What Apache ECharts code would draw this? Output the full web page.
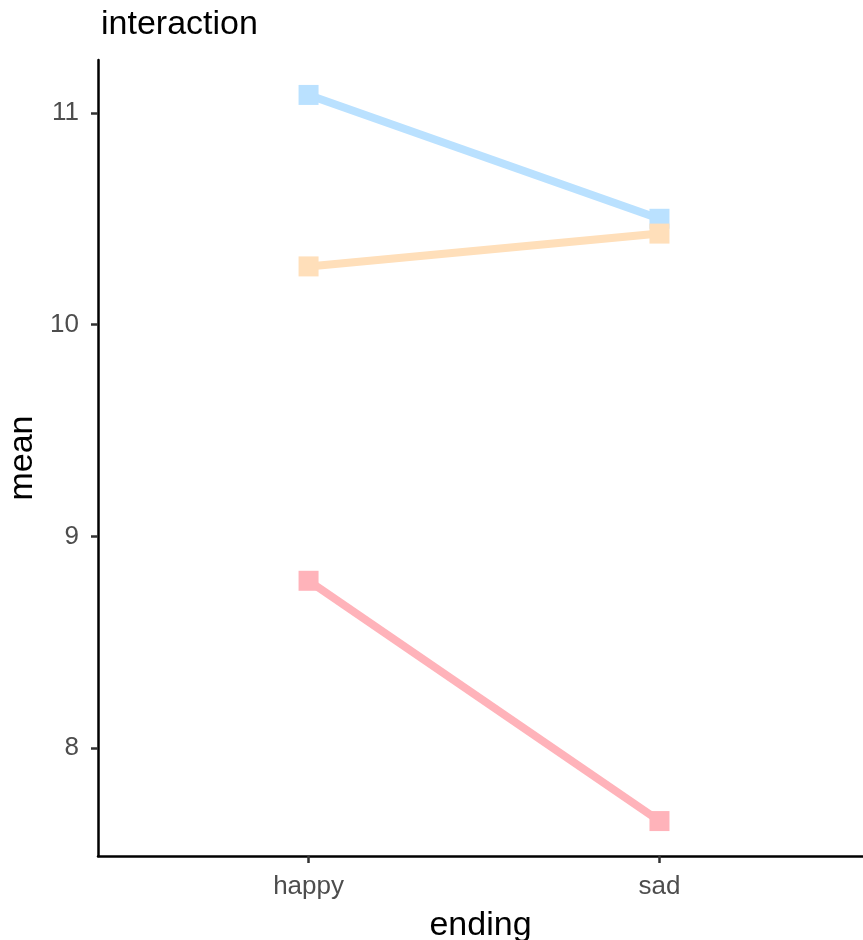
<!DOCTYPE html>
<html>
<head>
<meta charset="utf-8">
<script src="https://cdn.jsdelivr.net/npm/echarts@6/dist/echarts.min.js"></script>
<style>
  html, body { margin: 0; padding: 0; background: #fff; }
  #chart { width: 863px; height: 940px; }
</style>
</head>
<body>
<div id="chart"></div>
<script>
var endings = ['happy', 'sad']
var seriesNames = ['pink', 'blue', 'orange']
var colors = ['#FFB3BA', '#BAE1FF', '#FFDFBA']
var pinkValues = [8.79, 7.655]
var blueValues = [11.085, 10.50]
var orangeValues = [10.275, 10.43]
var yTicks = [8, 9, 10, 11]

var allValues = [pinkValues, blueValues, orangeValues]

var series = []
for (var i = 0; i < allValues.length; i++) {
    var pts = []
    for (var j = 0; j < endings.length; j++) {
        pts.push([j + 1, allValues[i][j]])
    }
    series.push({
        name: seriesNames[i],
        type: 'line',
        data: pts,
        symbol: 'rect',
        symbolSize: 20,
        lineStyle: { width: 8, color: colors[i] },
        itemStyle: { color: colors[i] },
        z: 2 + i,
        animation: false
    })
}

var font = '"Liberation Sans", Arial, sans-serif'
var myChart = echarts.init(document.getElementById('chart'))
var option = {
    backgroundColor: '#fff',
    animation: false,
    title: {
        text: 'interaction',
        left: 96,
        top: 3,
        textStyle: { color: '#000', fontSize: 34, fontWeight: 'normal', fontFamily: font }
    },
    grid: { left: 98, right: 0, top: 60, bottom: 84, containLabel: false, outerBoundsMode: 'none' },
    xAxis: {
        type: 'value',
        min: 0.4,
        max: 2.58,
        name: 'ending',
        nameLocation: 'middle',
        nameGap: 53,
        nameTextStyle: { color: '#000', fontSize: 34, fontFamily: font },
        axisLine: { lineStyle: { color: '#000', width: 2.5 } },
        axisTick: { show: true, length: 7, customValues: [1, 2], lineStyle: { color: '#333', width: 2.5 } },
        axisLabel: {
            customValues: [1, 2],
            margin: 18,
            color: '#4d4d4d',
            fontSize: 26,
            fontFamily: font,
            formatter: function (v) { return endings[Math.round(v) - 1] || '' }
        },
        splitLine: { show: false }
    },
    yAxis: {
        type: 'value',
        min: 7.49,
        max: 11.25,
        name: 'mean',
        nameLocation: 'middle',
        nameGap: 47,
        nameRotate: 90,
        nameTextStyle: { color: '#000', fontSize: 34, fontFamily: font },
        axisLine: { show: true, lineStyle: { color: '#000', width: 2.5 } },
        axisTick: { show: true, length: 7, customValues: yTicks, lineStyle: { color: '#333', width: 2.5 } },
        axisLabel: {
            customValues: yTicks,
            margin: 19,
            color: '#4d4d4d',
            fontSize: 26,
            fontFamily: font
        },
        splitLine: { show: false }
    },
    series: series
}
myChart.setOption(option, true)
</script>
</body>
</html>
